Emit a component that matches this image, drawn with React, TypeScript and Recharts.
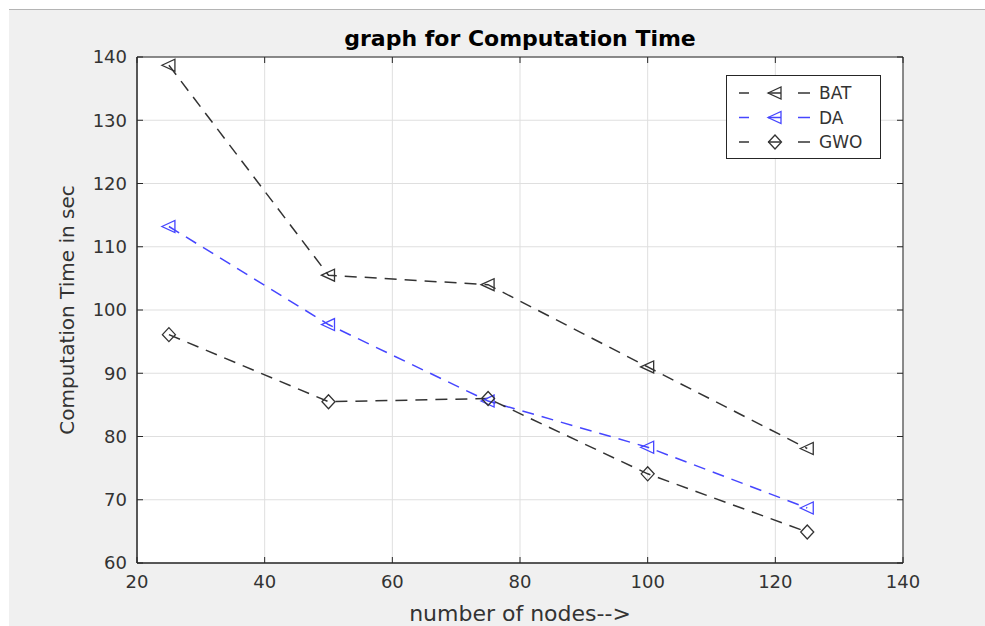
import React from "react";
import {
  LineChart,
  Line,
  XAxis,
  YAxis,
  CartesianGrid,
  Legend,
  ReferenceArea,
} from "recharts";

const nodes: number[] = [25, 50, 75, 100, 125];
const batTime: number[] = [138.7, 105.5, 104.0, 91.0, 78.1];
const daTime: number[] = [113.2, 97.7, 85.6, 78.3, 68.7];
const gwoTime: number[] = [96.1, 85.5, 86.0, 74.1, 64.9];

const xTicks: number[] = [20, 40, 60, 80, 100, 120, 140];
const yTicks: number[] = [60, 70, 80, 90, 100, 110, 120, 130, 140];

const data = nodes.map((n, i) => ({
  nodes: n,
  BAT: batTime[i],
  DA: daTime[i],
  GWO: gwoTime[i],
}));

const AXIS = "#262626";
const GRID = "#dfdfdf";
const FONT = "'DejaVu Sans', sans-serif";

type Marker = "triangle" | "diamond";
const series: { key: string; color: string; marker: Marker }[] = [
  { key: "BAT", color: "#333333", marker: "triangle" },
  { key: "DA", color: "#4646ff", marker: "triangle" },
  { key: "GWO", color: "#333333", marker: "diamond" },
];

// plot box (matlab style frame with inward ticks)
const PLOT = { left: 137, right: 903, top: 57, bottom: 563 };
const TICK_LEN = 6;

const markerPath = (shape: Marker, cx: number, cy: number) =>
  shape === "diamond"
    ? `M${cx - 6.5},${cy} L${cx},${cy - 7} L${cx + 6.5},${cy} L${cx},${cy + 7} Z`
    : `M${cx - 7},${cy} L${cx + 6},${cy - 6} L${cx + 6},${cy + 6} Z`;

const YTick = (props: any) => {
  const { x, y, payload } = props;
  return (
    <g>
      <line x1={PLOT.left} x2={PLOT.left + TICK_LEN} y1={y} y2={y} stroke={AXIS} />
      <line x1={PLOT.right - TICK_LEN} x2={PLOT.right} y1={y} y2={y} stroke={AXIS} />
      <text x={x} y={y} dy="0.36em" textAnchor="end" fill="#333" fontSize={18} fontFamily={FONT}>
        {payload.value}
      </text>
    </g>
  );
};

const XTick = (props: any) => {
  const { x, y, payload } = props;
  return (
    <g>
      <line x1={x} x2={x} y1={PLOT.bottom - TICK_LEN} y2={PLOT.bottom} stroke={AXIS} />
      <line x1={x} x2={x} y1={PLOT.top} y2={PLOT.top + TICK_LEN} stroke={AXIS} />
      <text x={x} y={y} dy="0.71em" textAnchor="middle" fill="#333" fontSize={18} fontFamily={FONT}>
        {payload.value}
      </text>
    </g>
  );
};

const LegendBox = () => (
  <div
    style={{
      width: 155,
      height: 84,
      background: "#fff",
      border: `1px solid ${AXIS}`,
      boxSizing: "border-box",
    }}
  >
    <svg width={153} height={82}>
      {series.map((s, i) => {
        const y = 17 + i * 24.5;
        return (
          <g key={s.key}>
            <line x1={12} x2={22} y1={y} y2={y} stroke={s.color} strokeWidth={1.5} />
            <line x1={71} x2={83} y1={y} y2={y} stroke={s.color} strokeWidth={1.5} />
            <line x1={41} x2={54} y1={y} y2={y} stroke={s.color} strokeWidth={1.5} />
            <path d={markerPath(s.marker, 48, y)} fill="none" stroke={s.color} strokeWidth={1.3} />
            <text x={92} y={y} dy="0.36em" fill="#333" fontSize={17} fontFamily={FONT}>
              {s.key}
            </text>
          </g>
        );
      })}
    </svg>
  </div>
);

export default function App() {
  return (
    <div
      style={{
        position: "absolute",
        left: 0,
        top: 0,
        width: 985,
        height: 626,
        background: "#fff",
        overflow: "hidden",
      }}
    >
      <div
        style={{
          position: "absolute",
          left: 9,
          top: 9,
          right: 0,
          bottom: 0,
          background: "#f0f0f0",
          borderTop: "1px solid #b4b4b4",
        }}
      />
      <div
        style={{
          position: "absolute",
          left: PLOT.left,
          width: PLOT.right - PLOT.left,
          top: 28,
          textAlign: "center",
          fontFamily: FONT,
          fontWeight: "bold",
          fontSize: 22,
          lineHeight: "22px",
          color: "#000",
        }}
      >
        graph for Computation Time
      </div>
      <div style={{ position: "absolute", left: 0, top: 0 }}>
        <LineChart
          width={985}
          height={626}
          data={data}
          margin={{ top: PLOT.top, right: 985 - PLOT.right, bottom: 0, left: 0 }}
        >
          <CartesianGrid stroke={GRID} fill="#fff" />
          <XAxis
            dataKey="nodes"
            type="number"
            domain={[20, 140]}
            ticks={xTicks}
            height={63}
            tickLine={false}
            tickSize={0}
            tickMargin={12}
            stroke={AXIS}
            tick={<XTick />}
            label={{
              value: "number of nodes-->",
              position: "insideBottom",
              offset: 5,
              fill: "#333",
              fontSize: 22,
              fontFamily: FONT,
            }}
          />
          <YAxis
            type="number"
            domain={[60, 140]}
            ticks={yTicks}
            width={PLOT.left}
            tickLine={false}
            tickSize={0}
            tickMargin={10}
            stroke={AXIS}
            tick={<YTick />}
            label={{
              value: "Computation Time in sec",
              angle: -90,
              position: "center",
              dx: -2,
              fill: "#333",
              fontSize: 20,
              fontFamily: FONT,
            }}
          />
          <ReferenceArea x1={20} x2={140} y1={60} y2={140} fill="none" stroke={AXIS} strokeWidth={1} />
          {series.map((s) => (
            <Line
              key={s.key}
              dataKey={s.key}
              stroke={s.color}
              strokeWidth={1.5}
              strokeDasharray="12 8"
              isAnimationActive={false}
              dot={(p: any) => (
                <path
                  key={`${s.key}-${p.index}`}
                  d={markerPath(s.marker, p.cx, p.cy)}
                  fill="none"
                  stroke={s.color}
                  strokeWidth={1.3}
                />
              )}
              activeDot={false}
            />
          ))}
          <Legend
            layout="horizontal"
            verticalAlign="middle"
            align="center"
            wrapperStyle={{ top: 75, left: 726, width: 155, height: 84 }}
            content={() => <LegendBox />}
          />
        </LineChart>
      </div>
    </div>
  );
}
